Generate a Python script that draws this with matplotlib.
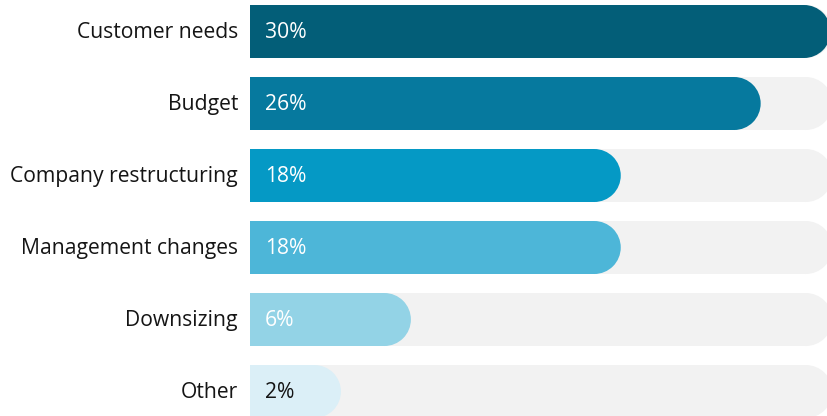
import matplotlib.pyplot as plt
from matplotlib.patches import Rectangle, Ellipse
from matplotlib.transforms import offset_copy

categories = ["Customer needs", "Budget", "Company restructuring",
              "Management changes", "Downsizing", "Other"]
values = [30, 26, 18, 18, 6, 2]
colors = ["#035e78", "#06799e", "#0599c5", "#4db6d8", "#93d3e6", "#dbeff7"]
label_colors = ["white", "white", "white", "white", "white", "#151515"]

plt.rcParams['font.family'] = ['Open Sans', 'DejaVu Sans']

fig = plt.figure(figsize=(8.28, 4.16), dpi=100)
ax = fig.add_axes([250 / 828, 0, 578 / 828, 1])

# data units: x in percent, y in row index
x_left, x_right = -3.2, 29.85
y_top, y_bottom = -0.4375, 5.34
ax.set_xlim(x_left, x_right)
ax.set_ylim(y_bottom, y_top)
ax.axis("off")

bar_h = 0.736
# cap radius in data units so that the rounded end is a true half circle
px_per_x = 578 / (x_right - x_left)
px_per_y = 416 / (y_bottom - y_top)
r_px = bar_h * px_per_y / 2
rx = r_px / px_per_x


def rounded_bar(y, end, color, z):
    ax.add_patch(Rectangle((x_left - 1, y - bar_h / 2), end - rx - x_left + 1, bar_h,
                           facecolor=color, edgecolor="none", zorder=z))
    ax.add_patch(Ellipse((end - rx, y), 2 * rx, bar_h,
                         facecolor=color, edgecolor="none", zorder=z))


track_end = 30.1
for i, (v, c) in enumerate(zip(values, colors)):
    rounded_bar(i, track_end, "#f2f2f2", 1)
    rounded_bar(i, v, c, 2)

    ax.text(0, i + 0.02, f"{v}%", transform=offset_copy(
        ax.get_yaxis_transform(), fig=fig, x=15, y=0, units="dots"),
        ha="left", va="center", color=label_colors[i], fontsize=15.2, zorder=3)
    ax.text(0, i + 0.02, categories[i], transform=offset_copy(
        ax.get_yaxis_transform(), fig=fig, x=-12, y=0, units="dots"),
        ha="right", va="center", color="#151515", fontsize=15.2, clip_on=False)

fig.savefig("out.png", dpi=100)
